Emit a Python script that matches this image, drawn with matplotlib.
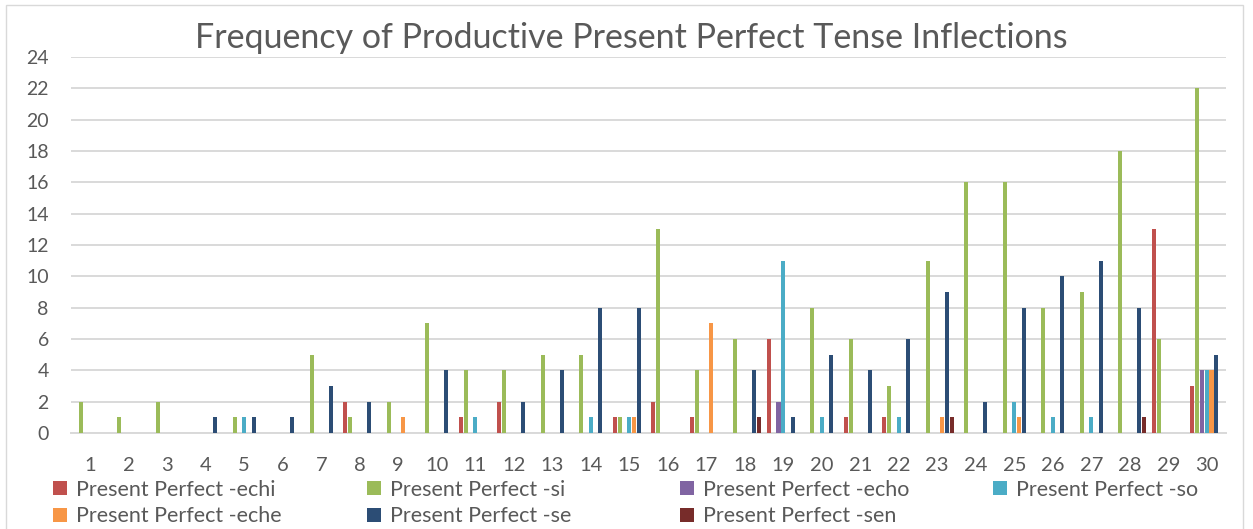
import numpy as np
import matplotlib
matplotlib.use("Agg")
import matplotlib.pyplot as plt
from matplotlib.lines import Line2D
from matplotlib.patches import Rectangle

plt.rcParams['font.family'] = ['Lato', 'DejaVu Sans']

# data
categories = [str(i) for i in range(1, 31)]
echi = [0, 0, 0, 0, 0, 0, 0, 2, 0, 0, 1, 2, 0, 0, 1, 2, 1, 0, 6, 0, 1, 1, 0, 0, 0, 0, 0, 0, 13, 3]
si = [2, 1, 2, 0, 1, 0, 5, 1, 2, 7, 4, 4, 5, 5, 1, 13, 4, 6, 0, 8, 6, 3, 11, 16, 16, 8, 9, 18, 6, 22]
echo = [0, 0, 0, 0, 0, 0, 0, 0, 0, 0, 0, 0, 0, 0, 0, 0, 0, 0, 2, 0, 0, 0, 0, 0, 0, 0, 0, 0, 0, 4]
so = [0, 0, 0, 0, 1, 0, 0, 0, 0, 0, 1, 0, 0, 1, 1, 0, 0, 0, 11, 1, 0, 1, 0, 0, 2, 1, 1, 0, 0, 4]
eche = [0, 0, 0, 0, 0, 0, 0, 0, 1, 0, 0, 0, 0, 0, 1, 0, 7, 0, 0, 0, 0, 0, 1, 0, 1, 0, 0, 0, 0, 4]
se = [0, 0, 0, 1, 1, 1, 3, 2, 0, 4, 0, 2, 4, 8, 8, 0, 0, 4, 1, 5, 4, 6, 9, 2, 8, 10, 11, 8, 0, 5]
sen = [0, 0, 0, 0, 0, 0, 0, 0, 0, 0, 0, 0, 0, 0, 0, 0, 0, 1, 0, 0, 0, 0, 1, 0, 0, 0, 0, 1, 0, 0]

series_names = ["Present Perfect -echi", "Present Perfect -si", "Present Perfect -echo",
                "Present Perfect -so", "Present Perfect -eche", "Present Perfect -se",
                "Present Perfect -sen"]
series_values = [echi, si, echo, so, eche, se, sen]
colors = ["#C0504D", "#9BBB59", "#8064A2", "#4BACC6", "#F79646", "#2C4D75", "#772C2A"]

W, H = 1253, 529
fig = plt.figure(figsize=(W / 100, H / 100), dpi=100)
fig.patch.set_facecolor("white")
ax = fig.add_axes([71 / W, 1 - 433 / H, (1226 - 71) / W, (433 - 57) / H])

x = np.arange(1, 31)
slot = 0.125
for i, (vals, c) in enumerate(zip(series_values, colors)):
    ax.bar(x + (i - 3) * slot, vals, width=0.11, color=c, linewidth=0, zorder=3)

ax.set_xlim(0.5, 30.5)
ax.set_ylim(0, 24)
ax.set_yticks(range(0, 25, 2))
ax.set_xticks(x)
ax.set_xticklabels(categories)
ax.grid(axis='y', color="#d9d9d9", lw=1.4, zorder=0)
for s in ["top", "right", "left"]:
    ax.spines[s].set_visible(False)
ax.spines["bottom"].set_color("#d9d9d9")
ax.spines["bottom"].set_linewidth(1.4)
ax.tick_params(axis='both', length=0, labelsize=14, labelcolor="#595959")
ax.tick_params(axis='x', labelsize=14.5, pad=17)
ax.tick_params(axis='y', pad=16)

fig.text(631 / W, 1 - 38 / H, "Frequency of Productive Present Perfect Tense Inflections",
         ha='center', va='center', fontsize=24.5, color="#595959")

# legend, four columns like the original (series j on top, j+4 below)
col_x = [52, 366, 679, 992]
for j, cx in enumerate(col_x):
    idx = [k for k in (j, j + 4) if k < len(series_names)]
    handles = [Line2D([], [], ls='none', marker='s', markersize=10,
                      markerfacecolor=colors[k], markeredgewidth=0) for k in idx]
    fig.legend(handles, [series_names[k] for k in idx], loc='upper left',
               bbox_to_anchor=(cx / W, 1 - 480 / H), frameon=False,
               fontsize=15.5, labelcolor="#595959", handlelength=0.75,
               handletextpad=0.35, borderpad=0, borderaxespad=0, labelspacing=0.3)

fig.add_artist(Rectangle((6 / W, -0.05), (1243 - 6) / W, 1 - 5 / H + 0.05,
                         transform=fig.transFigure, fill=False,
                         edgecolor="#d9d9d9", lw=1))

fig.savefig("out.png", dpi=100)
